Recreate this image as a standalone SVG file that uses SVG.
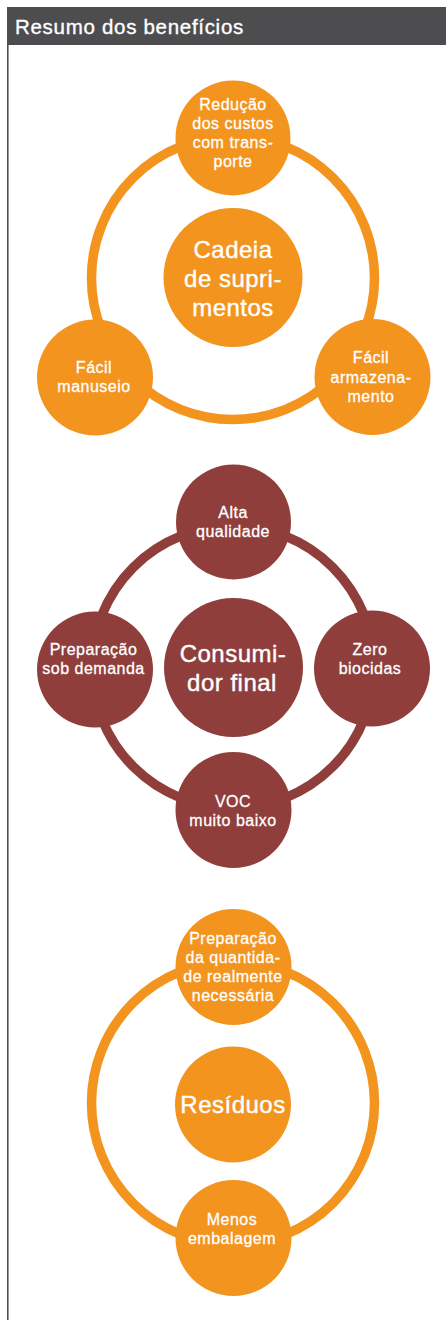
<svg xmlns="http://www.w3.org/2000/svg" width="446" height="1320" viewBox="0 0 446 1320">
<style>
.or{fill:#F3941F}
.mr{fill:#8F3E3B}
.ringo{fill:none;stroke:#F3941F;stroke-width:9.5}
.ringm{fill:none;stroke:#8F3E3B;stroke-width:9.5}
.t{font-family:"Liberation Sans",Arial,Helvetica,sans-serif;fill:#fff;stroke:#fff;stroke-width:0.3px;text-anchor:middle;font-size:16px;letter-spacing:0.5px}
.c{font-family:"Liberation Sans",Arial,Helvetica,sans-serif;fill:#fff;stroke:#fff;stroke-width:0.4px;text-anchor:middle;font-size:24px;letter-spacing:0.5px}
.h{font-family:"Liberation Sans",Arial,Helvetica,sans-serif;fill:#fff;stroke:#fff;stroke-width:0.35px;font-size:20.5px;letter-spacing:0.7px}
</style>
<rect width="446" height="1320" fill="#fff"/>
<g id="header">
<rect x="7" y="7" width="439" height="38" fill="#4D4D4F"/>
<line x1="7.8" y1="45" x2="7.8" y2="1320" stroke="#4D4D4F" stroke-width="1.6"/>
<text class="h" x="15" y="33.5">Resumo dos benefícios</text>
</g>
<g id="connectors">
<circle class="ringo" cx="233" cy="278" r="141.5"/>
<circle class="ringm" cx="233" cy="667" r="141"/>
<circle class="ringo" cx="233" cy="1103" r="141.5"/>
</g>
<g id="cadeia">
<circle class="or" cx="233" cy="277.5" r="69.5"/>
<text class="c" x="233" y="257.5">Cadeia</text>
<text class="c" x="233" y="287">de supri-</text>
<text class="c" x="233" y="316">mentos</text>
</g>
<g id="reducao">
<circle class="or" cx="233" cy="138" r="57.5"/>
<text class="t" x="233" y="109.5">Redução</text>
<text class="t" x="233" y="128.5">dos custos</text>
<text class="t" x="233" y="147.5">com trans-</text>
<text class="t" x="233" y="166.5">porte</text>
</g>
<g id="manuseio">
<circle class="or" cx="95" cy="377.5" r="58"/>
<text class="t" x="94" y="373">Fácil</text>
<text class="t" x="94" y="392">manuseio</text>
</g>
<g id="armazenamento">
<circle class="or" cx="372.5" cy="377" r="58"/>
<text class="t" x="371" y="363">Fácil</text>
<text class="t" x="371" y="382.5">armazena-</text>
<text class="t" x="371" y="401.5">mento</text>
</g>
<g id="consumidor">
<circle class="mr" cx="233.5" cy="667.5" r="69.5"/>
<text class="c" x="233" y="661.5">Consumi-</text>
<text class="c" x="232" y="690.5">dor final</text>
</g>
<g id="alta">
<circle class="mr" cx="233.5" cy="522" r="57.5"/>
<text class="t" x="233" y="518">Alta</text>
<text class="t" x="233" y="537">qualidade</text>
</g>
<g id="preparacao-demanda">
<circle class="mr" cx="95" cy="669.5" r="58"/>
<text class="t" x="93.5" y="655">Preparação</text>
<text class="t" x="93.5" y="673.5">sob demanda</text>
</g>
<g id="zero">
<circle class="mr" cx="372" cy="668.5" r="58"/>
<text class="t" x="370" y="654.5">Zero</text>
<text class="t" x="370" y="673.5">biocidas</text>
</g>
<g id="voc">
<circle class="mr" cx="233.5" cy="810" r="58"/>
<text class="t" x="233" y="807">VOC</text>
<text class="t" x="233" y="825.5">muito baixo</text>
</g>
<g id="residuos">
<circle class="or" cx="233" cy="1104.5" r="58"/>
<text class="c" x="233" y="1112.5">Resíduos</text>
</g>
<g id="preparacao-quantidade">
<circle class="or" cx="233.5" cy="967" r="58"/>
<text class="t" x="233" y="943.5">Preparação</text>
<text class="t" x="233" y="962.5">da quantida-</text>
<text class="t" x="233" y="981.5">de realmente</text>
<text class="t" x="233" y="1000.5">necessária</text>
</g>
<g id="menos">
<circle class="or" cx="233.5" cy="1238" r="58"/>
<text class="t" x="232" y="1225">Menos</text>
<text class="t" x="232" y="1243.5">embalagem</text>
</g>
</svg>
